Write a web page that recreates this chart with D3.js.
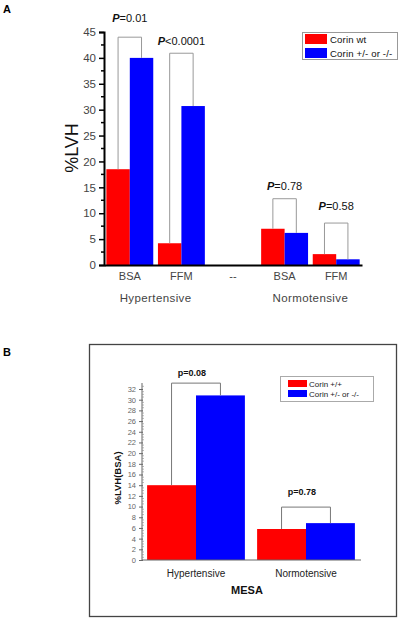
<!DOCTYPE html>
<html><head><meta charset="utf-8">
<script src="https://cdn.jsdelivr.net/npm/d3@7"></script>
<style>
body{margin:0;background:#fff;}
svg{display:block;font-family:"Liberation Sans",Arial,sans-serif;}
</style></head>
<body>
<svg id="c" width="400" height="620"></svg>
<script>
// ---------- Panel A data ----------
const catsA = ["BSA","FFM","--","BSA","FFM"];
const wtA   = [18.5, 4.2, null, 7.0, 2.1];
const hetA  = [40.0, 30.7, null, 6.2, 1.1];
const pTextA = ["=0.01","<0.0001",null,"=0.78","=0.58"];
const bracketA = [44.0, 40.9, null, 12.8, 8.1];
const pLabelA = [46.9, 42.5, null, 14.5, 10.6];
const groupsA = [["Hypertensive",0,1],["Normotensive",3,4]];
const ticksA = [0,5,10,15,20,25,30,35,40,45];
const legendA = ["Corin wt","Corin +/- or -/-"];

// ---------- Panel B data ----------
const catsB = ["Hypertensive","Normotensive"];
const wtB   = [14.0, 5.8];
const hetB  = [30.8, 6.9];
const pTextB = ["p=0.08","p=0.78"];
const bracketB = [33.1, 9.9];
const pLabelB = [34.5, 12.2];
const ticksB = [0,2,4,6,8,10,12,14,16,18,20,22,24,26,28,30,32];
const legendB = ["Corin +/+","Corin +/- or -/-"];

const RED="#ff0000", BLUE="#0000ff";
const svg=d3.select("#c");

// ================= Panel A =================
svg.append("text").attr("x",3).attr("y",13).attr("font-size",11).attr("font-weight","bold").text("A");
const yA=d3.scaleLinear().domain([0,45]).range([265,32]);
const xA=d3.scaleBand().domain(d3.range(catsA.length)).range([104,362]);
const subA=d3.scaleBand().domain([0,1]).range([0,xA.bandwidth()]).paddingOuter(0.1).paddingInner(0);
const gA=svg.append("g");

catsA.forEach((c,i)=>{
  if(wtA[i]==null) return;
  [[wtA[i],RED],[hetA[i],BLUE]].forEach(([v,col],k)=>{
    gA.append("rect").attr("x",xA(i)+subA(k)).attr("width",subA.bandwidth())
      .attr("y",yA(v)).attr("height",yA(0)-yA(v)).attr("fill",col);
  });
  const x0=xA(i)+subA(0)+subA.bandwidth()/2, x1=xA(i)+subA(1)+subA.bandwidth()/2;
  const yt=yA(bracketA[i]);
  gA.append("path").attr("d",`M${x0},${yA(wtA[i])}V${yt}H${x1}V${yA(hetA[i])}`)
    .attr("fill","none").attr("stroke","#999").attr("stroke-width",1);
  const t=gA.append("text").attr("x",xA(i)+xA.bandwidth()/2).attr("y",yA(pLabelA[i]))
    .attr("text-anchor","middle").attr("font-size",11).attr("fill","#111");
  t.append("tspan").attr("font-weight","bold").attr("font-style","italic").text("P");
  t.append("tspan").text(pTextA[i]);
});

const axA=d3.axisLeft(yA).tickValues(ticksA).tickSize(5).tickPadding(3);
const yg=gA.append("g").attr("transform","translate(104,0)").call(axA);
yg.select(".domain").attr("stroke","#000").attr("stroke-width",2);
yg.selectAll(".tick line").attr("stroke","#000").attr("stroke-width",1.5);
yg.selectAll(".tick text").attr("font-size",11.5).attr("fill","#444").attr("font-family","Liberation Sans, Arial, sans-serif");
const minorA=d3.range(2.5,45,5);
gA.selectAll(".minA").data(minorA).join("line").attr("x1",101).attr("x2",104)
  .attr("y1",d=>yA(d)).attr("y2",d=>yA(d)).attr("stroke","#000").attr("stroke-width",1.5);

const axXA=d3.axisBottom(xA).tickFormat(i=>catsA[i]).tickSize(0).tickPadding(7);
const xg=gA.append("g").attr("transform",`translate(0,${yA(0)})`).call(axXA);
xg.select(".domain").attr("stroke","#000").attr("stroke-width",2);
xg.selectAll(".tick text").attr("font-size",11).attr("fill","#444").attr("font-family","Liberation Sans, Arial, sans-serif");

groupsA.forEach(([name,a,b])=>{
  gA.append("text").attr("x",(xA(a)+xA(b)+xA.bandwidth())/2).attr("y",302)
    .attr("text-anchor","middle").attr("font-size",11.5).attr("fill","#444")
    .attr("letter-spacing",0.4).text(name);
});
gA.append("text").attr("transform","translate(78,148) rotate(-90)").attr("text-anchor","middle")
  .attr("font-size",18).attr("fill","#111").text("%LVH");

const lgA=gA.append("g");
lgA.append("rect").attr("x",302.5).attr("y",32.5).attr("width",95).attr("height",27)
  .attr("fill","#fff").attr("stroke","#999");
legendA.forEach((t,k)=>{
  lgA.append("rect").attr("x",305).attr("y",34+k*14).attr("width",22).attr("height",10)
    .attr("fill",k?BLUE:RED);
  lgA.append("text").attr("x",330).attr("y",43+k*14).attr("font-size",9.6).attr("fill","#111")
    .attr("letter-spacing",0.15).text(t);
});

// ================= Panel B =================
svg.append("text").attr("x",3).attr("y",356).attr("font-size",11).attr("font-weight","bold").text("B");
svg.append("rect").attr("x",89.5).attr("y",344.5).attr("width",307).attr("height",272)
  .attr("fill","none").attr("stroke","#444").attr("stroke-width",1.3);
const yB=d3.scaleLinear().domain([0,32]).range([560,389]);
const xB=d3.scaleBand().domain(catsB).range([141,361]);
const subB=d3.scaleBand().domain([0,1]).range([0,xB.bandwidth()]).paddingOuter(0.125).paddingInner(0);
const gB=svg.append("g");

catsB.forEach((c,i)=>{
  [[wtB[i],RED],[hetB[i],BLUE]].forEach(([v,col],k)=>{
    gB.append("rect").attr("x",xB(c)+subB(k)).attr("width",subB.bandwidth())
      .attr("y",yB(v)).attr("height",yB(0)-yB(v)).attr("fill",col);
  });
  const x0=xB(c)+subB(0)+subB.bandwidth()/2, x1=xB(c)+subB(1)+subB.bandwidth()/2;
  const yt=yB(bracketB[i]);
  gB.append("path").attr("d",`M${x0},${yB(wtB[i])}V${yt}H${x1}V${yB(hetB[i])}`)
    .attr("fill","none").attr("stroke","#777").attr("stroke-width",1);
  gB.append("text").attr("x",xB(c)+xB.bandwidth()/2-4).attr("y",yB(pLabelB[i]))
    .attr("text-anchor","middle").attr("font-size",9).attr("font-weight","bold")
    .attr("fill","#111").text(pTextB[i]);
});

const axB=d3.axisLeft(yB).tickValues(ticksB).tickSize(3).tickPadding(3);
const ygB=gB.append("g").attr("transform","translate(142,0)").call(axB);
ygB.select(".domain").attr("stroke","#666").attr("d","M0,383V560");
ygB.selectAll(".tick line").attr("stroke","#666").attr("x2",-3).attr("x1",1);
ygB.selectAll(".tick text").attr("font-size",7.5).attr("fill","#666").attr("font-family","Liberation Sans, Arial, sans-serif");
const minorB=d3.range(0.5,33,0.5).filter(d=>d%2!==0);
gB.selectAll(".minB").data(minorB).join("line").attr("x1",142).attr("x2",144)
  .attr("y1",d=>yB(d)).attr("y2",d=>yB(d)).attr("stroke","#888").attr("stroke-width",0.6);

const axXB=d3.axisBottom(xB).tickSize(0).tickPadding(10);
const xgB=gB.append("g").attr("transform",`translate(0,${yB(0)})`).call(axXB);
xgB.select(".domain").attr("stroke","#666").attr("d","M142,0H361");
xgB.selectAll(".tick text").attr("font-size",10).attr("fill","#222").attr("font-family","Liberation Sans, Arial, sans-serif");

gB.append("text").attr("x",247).attr("y",594).attr("text-anchor","middle")
  .attr("font-size",11).attr("font-weight","bold").attr("fill","#111").text("MESA");
gB.append("text").attr("transform","translate(121,478) rotate(-90)").attr("text-anchor","middle")
  .attr("font-size",9.5).attr("font-weight","bold").attr("fill","#111").text("%LVH(BSA)");

const lgB=gB.append("g");
lgB.append("rect").attr("x",280.5).attr("y",376.5).attr("width",93).attr("height",25)
  .attr("fill","#fff").attr("stroke","#aaa");
legendB.forEach((t,k)=>{
  lgB.append("rect").attr("x",288).attr("y",380+k*10).attr("width",19).attr("height",7)
    .attr("fill",k?BLUE:RED);
  lgB.append("text").attr("x",309).attr("y",387+k*10).attr("font-size",8).attr("fill","#222").text(t);
});
</script>
</body></html>
